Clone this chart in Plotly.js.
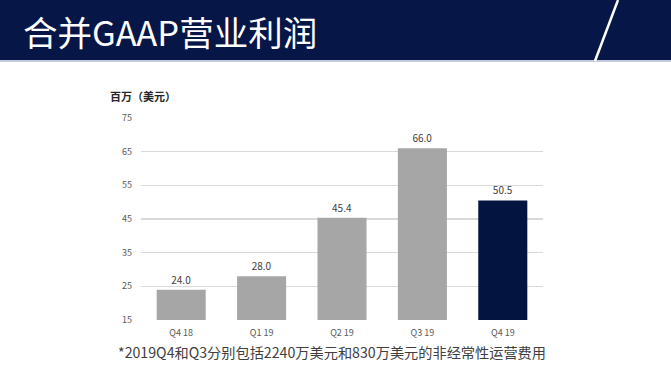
<!DOCTYPE html>
<html>
<head>
<meta charset="utf-8">
<script src="https://cdn.plot.ly/plotly-3.0.1.min.js"></script>
<style>html,body{margin:0;padding:0;background:#fff;}#chart{width:671px;height:377px;}</style>
</head>
<body>
<div id="chart"></div>
<script>
const categories = ["Q4 18", "Q1 19", "Q2 19", "Q3 19", "Q4 19"];
const values = [24.0, 28.0, 45.4, 66.0, 50.5];
const valueLabels = ["24.0", "28.0", "45.4", "66.0", "50.5"];
const barColors = ["#a6a6a6", "#a6a6a6", "#a6a6a6", "#a6a6a6", "#02143f"];
const yTicks = [15, 25, 35, 45, 55, 65, 75];

const W = 671, H = 377;
const px = x => x / W;
const py = y => 1 - y / H;
const cjk = '"Noto Sans CJK SC", "Noto Sans", sans-serif';

const trace = {
  type: 'bar',
  x: categories,
  y: values,
  text: valueLabels,
  textposition: 'outside',
  cliponaxis: false,
  textfont: {family: cjk, size: 10, color: '#404040'},
  marker: {color: barColors},
  hoverinfo: 'none'
};

const layout = {
  width: W, height: H,
  margin: {l: 0, r: 0, t: 0, b: 0},
  paper_bgcolor: '#ffffff',
  plot_bgcolor: '#ffffff',
  showlegend: false,
  bargap: 0.39,
  xaxis: {
    domain: [px(141), px(543)],
    anchor: 'y',
    showgrid: false,
    showline: false,
    zeroline: false,
    ticks: '',
    ticklabelstandoff: 6,
    tickfont: {family: cjk, size: 9, color: '#595959'},
    fixedrange: true
  },
  yaxis: {
    domain: [py(320), py(118)],
    anchor: 'x',
    range: [15, 75],
    tickvals: yTicks,
    ticktext: yTicks.map(String),
    showgrid: true,
    gridcolor: '#d9d9d9',
    gridwidth: 1.5,
    zeroline: false,
    showline: false,
    ticks: '',
    ticklabelstandoff: 8,
    tickfont: {family: cjk, size: 9, color: '#595959'},
    fixedrange: true
  },
  shapes: [
    {type: 'rect', xref: 'paper', yref: 'paper', x0: 0, x1: 1, y0: py(60), y1: 1,
     fillcolor: '#061647', line: {width: 0}, layer: 'below'},
    {type: 'line', xref: 'paper', yref: 'paper', x0: 0, x1: 1, y0: py(61), y1: py(61),
     line: {color: '#c5c9dc', width: 2}},
    {type: 'line', xref: 'paper', yref: 'paper', x0: px(595), x1: px(618), y0: py(61), y1: 1,
     line: {color: '#ffffff', width: 2.5}}
  ],
  annotations: [
    {text: '合并GAAP营业利润', xref: 'paper', yref: 'paper', x: px(21), y: py(31),
     xanchor: 'left', yanchor: 'middle', showarrow: false,
     font: {family: cjk, size: 34.5, color: '#ffffff'}},
    {text: '<b>百万（美元）</b>', xref: 'paper', yref: 'paper', x: px(108), y: py(96),
     xanchor: 'left', yanchor: 'middle', showarrow: false,
     font: {family: cjk, size: 11, color: '#262626'}},
    {text: '*2019Q4和Q3分别包括2240万美元和830万美元的非经常性运营费用', xref: 'paper', yref: 'paper',
     x: px(116), y: py(352), xanchor: 'left', yanchor: 'middle', showarrow: false,
     font: {family: cjk, size: 14.2, color: '#404040'}}
  ]
};

Plotly.newPlot('chart', [trace], layout, {staticPlot: true, displayModeBar: false});
</script>
</body>
</html>
